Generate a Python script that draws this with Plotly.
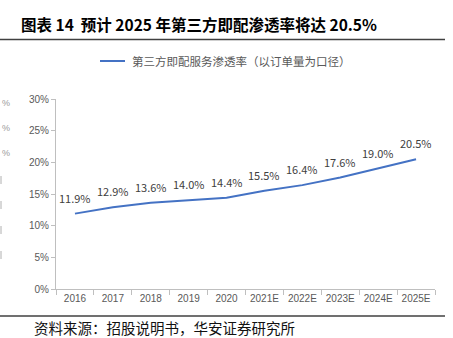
import plotly.graph_objects as go

# Third-party instant delivery penetration rate (share of order volume)
years = ["2016", "2017", "2018", "2019", "2020", "2021E", "2022E", "2023E", "2024E", "2025E"]
rate = [11.9, 12.9, 13.6, 14.0, 14.4, 15.5, 16.4, 17.6, 19.0, 20.5]
y_ticks = [0, 5, 10, 15, 20, 25, 30]

W, H = 453, 338
L, R, T, B = 56, 18, 99, 49
PW, PH = W - L - R, H - T - B

CJK = "Noto Sans CJK SC"
GRAY = "#595959"
BLUE = "#4472C4"

fig = go.Figure()
fig.add_trace(go.Scatter(
    x=years, y=rate, mode="lines",
    line=dict(color=BLUE, width=2),
    name="第三方即配服务渗透率（以订单量为口径）",
    showlegend=False,
))

fig.update_layout(
    width=W, height=H,
    margin=dict(l=L, r=R, t=T, b=B),
    paper_bgcolor="white", plot_bgcolor="white",
    font=dict(family=CJK, color=GRAY),
    showlegend=False,
)
fig.update_xaxes(
    type="category", categoryorder="array", categoryarray=years,
    range=[-0.5, len(years) - 0.5],
    showgrid=False,
    showline=True, linecolor="#BFBFBF", linewidth=1,
    ticks="outside", tickson="boundaries", ticklen=5, tickcolor="#BFBFBF",
    tickangle=0,
    tickfont=dict(family="Liberation Sans", size=10, color=GRAY),
)
fig.update_yaxes(
    range=[0, 30], tickvals=y_ticks, ticktext=[f"{v}%" for v in y_ticks],
    showgrid=False, zeroline=False,
    showline=True, linecolor="#BFBFBF", linewidth=1,
    ticks="outside", ticklen=4, tickcolor="#BFBFBF",
    tickfont=dict(family="Liberation Sans", size=10, color=GRAY),
)


# convert figure pixel positions into paper coordinates
def px_x(p):
    return (p - L) / PW


def px_y(p):
    return (H - B - p) / PH


annotations = []
# value labels above each point (category index on the x axis)
for i, v in enumerate(rate):
    annotations.append(dict(text=f"{v:.1f}%", x=i, y=v, xref="x", yref="y",
                            yshift=16, xanchor="center", yanchor="middle", showarrow=False,
                            font=dict(family=CJK, size=11, color="#404040")))

paper_texts = [
    dict(text="<b>图表 14  预计 2025 年第三方即配渗透率将达 20.5%</b>",
         x=px_x(19), y=px_y(24), xanchor="left", yanchor="middle",
         font=dict(family=CJK, size=15.5, color="#000000")),
    dict(text="第三方即配服务渗透率（以订单量为口径）",
         x=px_x(130), y=px_y(61), xanchor="left", yanchor="middle",
         font=dict(family=CJK, size=11.5, color=GRAY)),
    dict(text="资料来源：招股说明书，华安证券研究所",
         x=px_x(32), y=px_y(327), xanchor="left", yanchor="middle",
         font=dict(family=CJK, size=14.5, color="#111111")),
]
# faint labels at the left edge
for yy in (103, 128, 153):
    paper_texts.append(dict(text="%", x=px_x(0), y=px_y(yy), xanchor="left", yanchor="middle",
                            font=dict(family="Liberation Sans", size=9, color="#9A9A9A")))
for a in paper_texts:
    a.update(xref="paper", yref="paper", showarrow=False)
annotations.extend(paper_texts)
fig.update_layout(annotations=annotations)

shapes = [
    dict(type="line", x0=px_x(0), x1=px_x(445), y0=px_y(39.5), y1=px_y(39.5),
         line=dict(color="#404040", width=1.5)),
    dict(type="line", x0=px_x(0), x1=px_x(445), y0=px_y(316), y1=px_y(316),
         line=dict(color="#404040", width=1.5)),
    dict(type="line", x0=px_x(100), x1=px_x(125), y0=px_y(61), y1=px_y(61),
         line=dict(color=BLUE, width=2)),
]
for yy in (180, 205, 230, 255):
    shapes.append(dict(type="line", x0=px_x(1), x1=px_x(1), y0=px_y(yy - 4), y1=px_y(yy + 4),
                       line=dict(color="#B0B0B0", width=1)))
for s in shapes:
    s.update(xref="paper", yref="paper")
fig.update_layout(shapes=shapes)

fig.write_html("out.html")
